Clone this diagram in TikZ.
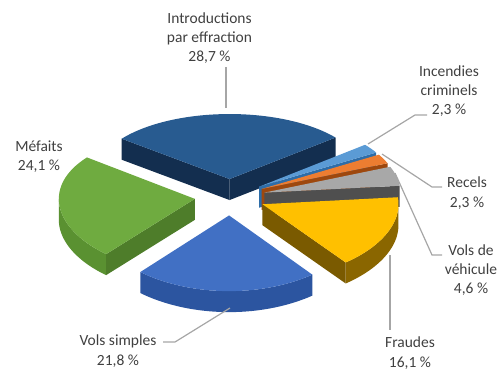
\documentclass[tikz,border=0pt]{standalone}
\usepackage{fontspec}
\setmainfont{Carlito}
\definecolor{labelgray}{HTML}{404040}
\definecolor{leadergray}{HTML}{A6A6A6}
\definecolor{introTop}{HTML}{285B90}
\definecolor{introRad}{HTML}{132E4F}
\definecolor{mefTop}{HTML}{6FAB40}
\definecolor{mefRad}{HTML}{4E7D2A}
\definecolor{mefSide}{HTML}{5A9131}
\definecolor{vsTop}{HTML}{4170C4}
\definecolor{vsSide}{HTML}{2C55A0}
\definecolor{frTop}{HTML}{FFC000}
\definecolor{frRad}{HTML}{7A5A00}
\definecolor{frSide}{HTML}{8A6600}
\definecolor{vvTop}{HTML}{A8A8A8}
\definecolor{vvRad}{HTML}{4F4F4F}
\definecolor{recTop}{HTML}{ED7D31}
\definecolor{recRad}{HTML}{9E480E}
\definecolor{incTop}{HTML}{5B9BD5}
\definecolor{incRad}{HTML}{2E6DA8}
\def\pieE{0.26}
\def\pieH{21}
% #1 start angle, #2 end angle, #3 top colour, #4 radial face colour, #5 outer side colour
\newcommand\pieSlice[5]{%
  \pgfmathsetmacro\pmid{(#1+#2)/2}%
  \pgfmathsetmacro\pox{\pieE*cos(\pmid)}%
  \pgfmathsetmacro\poy{\pieE*sin(\pmid)}%
  \pgfmathsetmacro\sA{max(#1,180)}%
  \pgfmathsetmacro\sB{min(#2,360)}%
  \ifdim\sA pt<\sB pt
    \fill[#5] plot[domain=\sA:\sB,samples=40] ({PX(\pox+cos(\x))},{PY(\poy+sin(\x))})
      -- plot[domain=\sB:\sA,samples=40] ({PX(\pox+cos(\x))},{PY(\poy+sin(\x))+\pieH}) -- cycle;
  \fi
  \pgfmathsetmacro\cA{cos(#1)}%
  \ifdim\cA pt>0pt
    \fill[#4] ({PX(\pox)},{PY(\poy)}) -- ({PX(\pox+cos(#1))},{PY(\poy+sin(#1))})
      -- ({PX(\pox+cos(#1))},{PY(\poy+sin(#1))+\pieH}) -- ({PX(\pox)},{PY(\poy)+\pieH}) -- cycle;
  \fi
  \pgfmathsetmacro\cB{cos(#2)}%
  \ifdim\cB pt<0pt
    \fill[#4] ({PX(\pox)},{PY(\poy)}) -- ({PX(\pox+cos(#2))},{PY(\poy+sin(#2))})
      -- ({PX(\pox+cos(#2))},{PY(\poy+sin(#2))+\pieH}) -- ({PX(\pox)},{PY(\poy)+\pieH}) -- cycle;
  \fi
  \fill[#3] ({PX(\pox)},{PY(\poy)}) -- plot[domain=#1:#2,samples=50] ({PX(\pox+cos(\x))},{PY(\poy+sin(\x))}) -- cycle;
}
\begin{document}
\begin{tikzpicture}[x=1pt,y=-1pt,
  declare function={PX(\pa)=230+136*\pa; PY(\pb)=197-70*\pb/(1+0.05*\pb);},
  lbl/.style={font=\fontsize{15.5}{19.3}\selectfont, text=labelgray, align=center, inner sep=0pt},
  leader/.style={draw=leadergray, line width=1.2pt}]
\useasboundingbox (0,0) rectangle (504,370);
% slices, back to front
\pieSlice{38.82}{142.5}{introTop}{introRad}{introRad}
\pieSlice{390.54}{398.82}{incTop}{incRad}{incRad}
\pieSlice{382.26}{390.54}{recTop}{recRad}{recRad}
\pieSlice{365.70}{382.26}{vvTop}{vvRad}{vvRad}
\pieSlice{142.5}{229.26}{mefTop}{mefRad}{mefSide}
\pieSlice{307.74}{365.70}{frTop}{frRad}{frSide}
\pieSlice{229.26}{307.74}{vsTop}{vsSide}{vsSide}
% labels
\node[lbl] (intro) at (209.5,38) {Introductions\\par effraction\\28,7 \%};
\node[lbl] (inc) at (449,91) {Incendies\\criminels\\2,3 \%};
\node[lbl] (rec) at (467,193) {Recels\\2,3 \%};
\node[lbl] (vv) at (471,270) {Vols de\\véhicule\\4,6 \%};
\node[lbl] (fr) at (410,353) {Fraudes\\16,1 \%};
\node[lbl] (vs) at (118,351) {Vols simples\\21,8 \%};
\node[lbl] (mef) at (39,157) {Méfaits\\24,1 \%};
% leader coordinates
\coordinate (introA) at (226,108); \coordinate (introB) at (226,67);
\coordinate (incA) at (368,144); \coordinate (incB) at (415,115); \coordinate (incC) at (427,115);
\coordinate (recA) at (382,154); \coordinate (recB) at (432,187); \coordinate (recC) at (442,187);
\coordinate (vvA) at (395,173); \coordinate (vvB) at (432,255); \coordinate (vvC) at (442,255);
\coordinate (frA) at (390,255); \coordinate (frB) at (390,330);
\coordinate (vsA) at (230,308); \coordinate (vsB) at (175,342); \coordinate (vsC) at (163,342);
\draw[leader] (introA) -- (introB);
\draw[leader] (incA) -- (incB) -- (incC);
\draw[leader] (recA) -- (recB) -- (recC);
\draw[leader] (vvA) -- (vvB) -- (vvC);
\draw[leader] (frA) -- (frB);
\draw[leader] (vsA) -- (vsB) -- (vsC);
\end{tikzpicture}
\end{document}
